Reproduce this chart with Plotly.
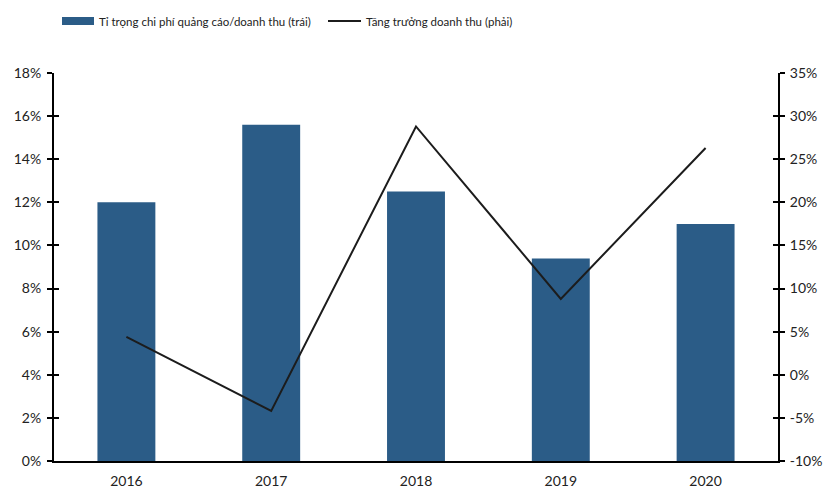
import plotly.graph_objects as go

# Annual data
years = ["2016", "2017", "2018", "2019", "2020"]
ad_ratio = [12.0, 15.6, 12.5, 9.4, 11.0]        # % of revenue (left axis)
revenue_growth = [4.4, -4.2, 28.8, 8.8, 26.3]   # % YoY (right axis)

left_ticks = [0, 2, 4, 6, 8, 10, 12, 14, 16, 18]
right_ticks = [-10, -5, 0, 5, 10, 15, 20, 25, 30, 35]

bar_color = "#2b5c87"
line_color = "#1c1c1c"
font_family = "Lato, Liberation Sans, sans-serif"
tick_font = dict(family=font_family, size=14, color="#222222")
legend_font = dict(family=font_family, size=11.5, color="#222222")

fig = go.Figure()
fig.add_trace(go.Bar(
    x=years, y=ad_ratio, yaxis="y", marker=dict(color=bar_color, line=dict(width=0)),
    width=0.4, name="Tỉ trọng chi phí quảng cáo/doanh thu (trái)", showlegend=False,
))
fig.add_trace(go.Scatter(
    x=years, y=revenue_growth, yaxis="y2", mode="lines",
    line=dict(color=line_color, width=2), name="Tăng trưởng doanh thu (phải)", showlegend=False,
))

axis_common = dict(showgrid=False, zeroline=False, linecolor="black", linewidth=2,
                   tickcolor="black", tickwidth=2, ticklen=5, automargin=False)

fig.update_layout(
    width=827, height=489,
    margin=dict(l=54, r=49, t=73, b=28),
    paper_bgcolor="white", plot_bgcolor="white",
    font=dict(family=font_family, size=13, color="#222222"),
    xaxis=dict(type="category", showgrid=False, showline=True, linecolor="black", linewidth=2,
               ticks="", tickfont=tick_font, zeroline=False, automargin=False,
               ticklabelstandoff=6),
    yaxis=dict(range=[0, 18], tickvals=left_ticks, ticktext=[f"{v}%" for v in left_ticks],
               ticks="outside", showline=True, tickfont=tick_font, ticklabelstandoff=3,
               **axis_common),
    yaxis2=dict(range=[-10, 35], tickvals=right_ticks, ticktext=[f"{v}%" for v in right_ticks],
                ticks="outside", showline=True, overlaying="y", side="right",
                tickfont=tick_font, ticklabelstandoff=2, **axis_common),
    # inner halves of the cross-shaped tick marks
    yaxis3=dict(range=[0, 18], tickvals=left_ticks, ticks="inside", showticklabels=False,
                overlaying="y", side="left", showline=False, showgrid=False, zeroline=False,
                tickcolor="black", tickwidth=2, ticklen=5, automargin=False),
    yaxis4=dict(range=[-10, 35], tickvals=right_ticks, ticks="inside", showticklabels=False,
                overlaying="y", side="right", showline=False, showgrid=False, zeroline=False,
                tickcolor="black", tickwidth=2, ticklen=5, automargin=False),
)
# placeholder traces so the tick-only axes are drawn
fig.add_trace(go.Scatter(x=[years[0]], y=[None], yaxis="y3", showlegend=False, hoverinfo="skip"))
fig.add_trace(go.Scatter(x=[years[0]], y=[None], yaxis="y4", showlegend=False, hoverinfo="skip"))

# Legend drawn above the plot
def px_x(px):
    return (px - 54) / 724

def px_y(py):
    return 1 + (73 - py) / 388

fig.add_shape(type="rect", xref="paper", yref="paper",
              x0=px_x(62), x1=px_x(94), y0=px_y(25), y1=px_y(17),
              fillcolor=bar_color, line=dict(width=0))
fig.add_annotation(text="Tỉ trọng chi phí quảng cáo/doanh thu (trái)", xref="paper", yref="paper",
                   x=px_x(97), y=px_y(21), xanchor="left", yanchor="middle",
                   showarrow=False, font=legend_font)
fig.add_shape(type="line", xref="paper", yref="paper",
              x0=px_x(328), x1=px_x(361), y0=px_y(21), y1=px_y(21),
              line=dict(color=line_color, width=2))
fig.add_annotation(text="Tăng trưởng doanh thu (phải)", xref="paper", yref="paper",
                   x=px_x(364), y=px_y(21), xanchor="left", yanchor="middle",
                   showarrow=False, font=legend_font)

fig.write_html("out.html")
